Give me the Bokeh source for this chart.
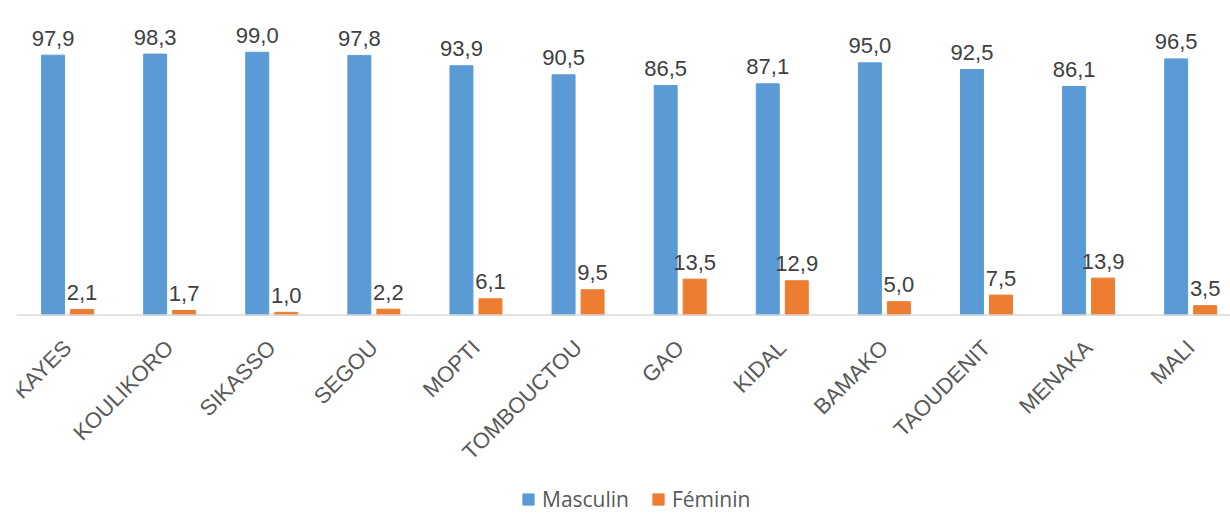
import math
from bokeh.plotting import figure
from bokeh.models import ColumnDataSource, Range1d, Legend, LegendItem, Span
from bokeh.core.properties import value
from bokeh.embed import file_html
from bokeh.resources import INLINE

regions = ["KAYES", "KOULIKORO", "SIKASSO", "SEGOU", "MOPTI", "TOMBOUCTOU",
           "GAO", "KIDAL", "BAMAKO", "TAOUDENIT", "MENAKA", "MALI"]
masculin = [97.9, 98.3, 99.0, 97.8, 93.9, 90.5, 86.5, 87.1, 95.0, 92.5, 86.1, 96.5]
feminin = [2.1, 1.7, 1.0, 2.2, 6.1, 9.5, 13.5, 12.9, 5.0, 7.5, 13.9, 3.5]
series_names = ["Masculin", "Féminin"]
colors = ["#5B9BD5", "#ED7D31"]

FONT = value("'Liberation Sans', Arial, sans-serif")

idx = list(range(len(regions)))
off = 0.142
bw = 0.225

def fmt(v):
    return f"{v:.1f}".replace(".", ",")

src_m = ColumnDataSource(dict(x=[i - off for i in idx], y=masculin, lab=[fmt(v) for v in masculin]))
src_f = ColumnDataSource(dict(x=[i + off for i in idx], y=feminin, lab=[fmt(v) for v in feminin]))
src_c = ColumnDataSource(dict(x=idx, y=[0] * len(idx), lab=regions))

p = figure(width=1230, height=513, output_backend="svg", toolbar_location=None,
           x_range=Range1d(-0.5, 11.39), y_range=Range1d(-74.8, 118.5),
           x_axis_location=None, y_axis_location=None,
           min_border_left=16, min_border_right=0, min_border_top=0, min_border_bottom=0)
p.outline_line_color = None
p.xgrid.visible = False
p.ygrid.visible = False
p.background_fill_color = "white"
p.border_fill_color = "white"

r1 = p.vbar(x="x", top="y", width=bw, source=src_m, fill_color=colors[0], line_color=colors[0])
r2 = p.vbar(x="x", top="y", width=bw, source=src_f, fill_color=colors[1], line_color=colors[1])

# category axis baseline
p.add_layout(Span(location=0, dimension="width", line_color="#d9d9d9", line_width=1.5))

# value labels
for s in (src_m, src_f):
    p.text(x="x", y="y", text="lab", source=s, text_align="center", text_baseline="alphabetic",
           y_offset=-17, text_font=FONT, text_font_size="22px", text_color="#404040")

# rotated category labels
p.text(x="x", y="y", text="lab", source=src_c, angle=math.pi / 4,
       text_align="right", text_baseline="middle", y_offset=29,
       text_font=FONT, text_font_size="22px", text_color="#595959")

legend = Legend(items=[LegendItem(label=series_names[0], renderers=[r1]),
                       LegendItem(label=series_names[1], renderers=[r2])],
                orientation="horizontal", location=(505, 0),
                glyph_width=14, glyph_height=14, label_standoff=7, spacing=22,
                label_text_font="Open Sans", label_text_font_size="21px",
                label_text_color="#595959", border_line_color=None,
                background_fill_alpha=0, padding=0, margin=0)
p.add_layout(legend, "center")

open("out.html", "w").write(file_html(p, INLINE))
